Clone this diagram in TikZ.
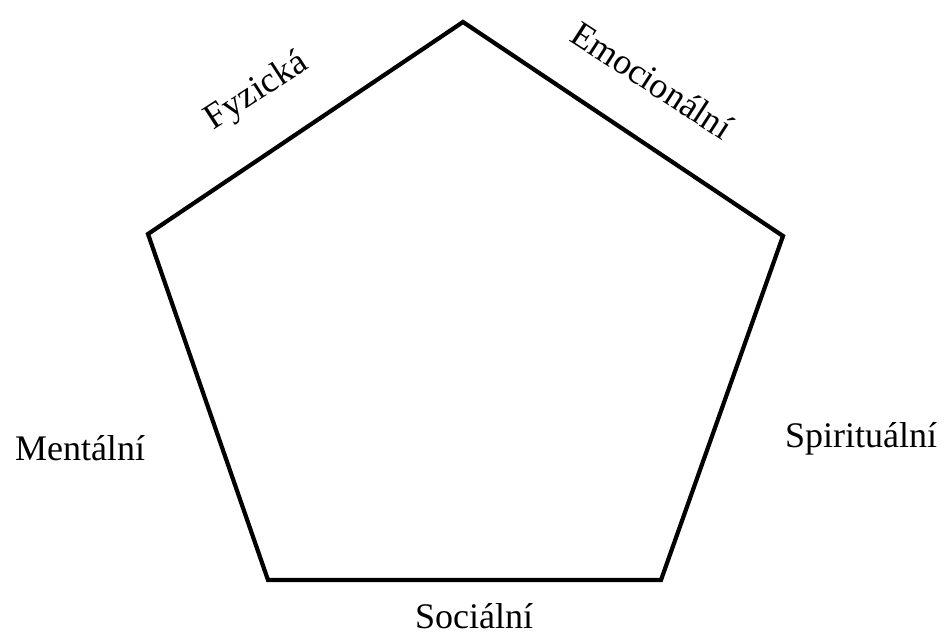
\documentclass[tikz,border=0pt]{standalone}
\usepackage{fontspec}
\setmainfont{Liberation Serif}
\begin{document}
\begin{tikzpicture}[x=1pt,y=-1pt,
  lbl/.style={font=\fontsize{36}{40}\selectfont, inner sep=0pt},
  edge/.style={line width=4.2pt, line join=miter}]
\useasboundingbox (0,0) rectangle (946,634);
\coordinate (T) at (463,22);
\coordinate (R) at (783,236);
\coordinate (BR) at (661,580);
\coordinate (BL) at (268,580);
\coordinate (L) at (148,234);
\draw[edge] (T) -- (R) -- (BR) -- (BL) -- (L) -- cycle;
\node[lbl, rotate=33] (fyz) at (257,92) {Fyzická};
\node[lbl, rotate=-33] (emo) at (652,80) {Emocionální};
\node[lbl, anchor=base] (men) at (80,460) {Mentální};
\node[lbl, anchor=base] (spi) at (861,447) {Spirituální};
\node[lbl, anchor=base] (soc) at (474,628) {Sociální};
\end{tikzpicture}
\end{document}
